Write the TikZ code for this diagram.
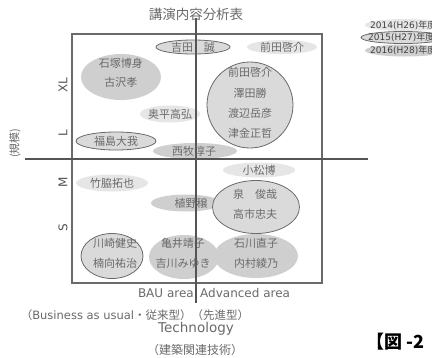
\documentclass[tikz,border=0pt]{standalone}
\usepackage{fontspec}
\setmainfont{DejaVu Sans}
\newfontfamily\jp{Noto Sans CJK JP}
\usetikzlibrary{shapes.geometric}
\definecolor{lightA}{HTML}{E6E6E6}
\definecolor{fillB}{HTML}{DADADA}
\definecolor{lineB}{HTML}{6A6A6A}
\definecolor{darkC}{HTML}{CFCFCF}
\definecolor{txtgray}{HTML}{6A6A6A}
\definecolor{axisgray}{HTML}{555555}
\tikzset{
  yA/.style={ellipse, fill=lightA, inner sep=0pt},
  yB/.style={ellipse, fill=fillB, draw=lineB, line width=0.8pt, inner sep=0pt},
  yC/.style={ellipse, fill=darkC, inner sep=0pt},
  nm/.style={font=\jp\fontsize{11}{20}\selectfont, text=txtgray, align=center, inner sep=0pt},
  lg/.style={font=\fontsize{9}{9}\selectfont, text=black!75, anchor=west, inner sep=0pt},
  sz/.style={font=\fontsize{12}{12}\selectfont, text=axisgray, rotate=90, inner sep=0pt},
  axisline/.style={draw=axisgray, line width=1.3pt},
  frameline/.style={draw=lineB, line width=1.4pt},
  bt/.style={text=txtgray, inner sep=0pt}
}
\begin{document}
\begin{tikzpicture}[x=1pt, y=-1pt]
\useasboundingbox (0,0) rectangle (432,357);
\clip (0,0) rectangle (432,357);
\fill[white] (0,0) rectangle (432,357);

% title
\node[bt, font=\jp\fontsize{13.5}{13.5}\selectfont] (title) at (196,14) {講演内容分析表};

% frame
\node[frameline, minimum width=250, minimum height=249, inner sep=0pt] (frame) at (197,158.5) {};

% ellipses
\node[yB, minimum width=74, minimum height=14] (eYoshida) at (193,47) {};
\node[yA, minimum width=70, minimum height=14] (eMaeda1) at (282,47) {};
\node[yB, minimum width=86, minimum height=86] (eBig) at (250,105) {};
\node[yC, minimum width=80, minimum height=46] (eIshi) at (121,77) {};
\node[yA, minimum width=60, minimum height=17] (eOku) at (170,114) {};
\node[yB, minimum width=80, minimum height=18] (eFuku) at (116,141) {};
\node[yC, minimum width=84, minimum height=16] (eNishi) at (195,151) {};
\node[yA, minimum width=72, minimum height=15] (eKoma) at (259,170) {};
\node[yA, minimum width=72, minimum height=17] (eTake) at (112,183) {};
\node[yC, minimum width=70, minimum height=17] (eUeno) at (186,203) {};
\node[yB, minimum width=87, minimum height=53] (eIzumi) at (256,207) {};
\node[yB, minimum width=62, minimum height=45] (eKawa) at (112,256) {};
\node[yC, minimum width=70, minimum height=44] (eKamei) at (184,257) {};
\node[yC, minimum width=84, minimum height=44] (eIshikawa) at (256,256) {};

% axes
\coordinate (vTop) at (196,18);
\coordinate (vBot) at (196,303);
\coordinate (hL) at (25,159);
\coordinate (hR) at (368,159);
\draw[axisline] (vTop) -- (vBot);
\draw[axisline] (hL) -- (hR);

% names
\node[nm] (tYoshida) at (193,47) {吉田　誠};
\node[nm] (tMaeda1) at (282,47) {前田啓介};
\node[nm, font=\jp\fontsize{11}{20.3}\selectfont] (tBig) at (250,103) {前田啓介\\澤田勝\\渡辺岳彦\\津金正哲};
\node[nm, font=\jp\fontsize{11}{19}\selectfont] (tIshi) at (121,73) {石塚博身\\古沢孝};
\node[nm] (tOku) at (170,114) {奥平高弘};
\node[nm] (tFuku) at (116,141) {福島大我};
\node[nm] (tNishi) at (194,151) {西牧淳子};
\node[nm] (tKoma) at (259,170) {小松博};
\node[nm] (tTake) at (112,183) {竹脇拓也};
\node[nm] (tUeno) at (191,203) {植野穣};
\node[nm] (tIzumi) at (255,204) {泉　俊哉\\高市忠夫};
\node[nm] (tKawa) at (115,253) {川崎健史\\楠向祐治};
\node[nm] (tKamei) at (183,253) {亀井靖子\\吉川みゆき};
\node[nm] (tIshikawa) at (256,253) {石川直子\\内村綾乃};

% size labels
\node[sz] (lXL) at (63,85) {XL};
\node[sz] (lL) at (63,133) {L};
\node[sz] (lM) at (63,182) {M};
\node[sz] (lS) at (63,228) {S};
\node[bt, font=\jp\fontsize{11}{11}\selectfont, rotate=90] (lScale) at (15,143) {(規模)};

% bottom labels
\node[bt, font=\fontsize{12}{12}\selectfont, anchor=east] (bau) at (194,293) {BAU area};
\node[bt, font=\fontsize{12}{12}\selectfont, anchor=west] (adv) at (200,293) {Advanced area};
\node[bt, font=\fontsize{11.5}{11.5}\selectfont] (bus) at (135,315) {{\jp （}Business as usual{\jp ・従来型）（先進型）}};
\node[bt, font=\fontsize{13.5}{13.5}\selectfont] (tech) at (196,329) {Technology};
\node[bt, font=\jp\fontsize{12}{12}\selectfont] (kenchiku) at (195,350) {（建築関連技術）};

% legend
\node[yA, minimum width=80, minimum height=12] (gA) at (405,25) {};
\node[yB, minimum width=84, minimum height=12] (gB) at (403,37.5) {};
\node[yC, minimum width=80, minimum height=12] (gC) at (405,50.5) {};
\node[lg] (gtA) at (370,25) {2014(H26){\jp 年度}};
\node[lg] (gtB) at (368,37.5) {2015(H27){\jp 年度}};
\node[lg] (gtC) at (370,50.5) {2016(H28){\jp 年度}};

% figure number
\node[font=\jp\bfseries\fontsize{18}{18}\selectfont, anchor=west, inner sep=0pt] (fig) at (366,342) {【図\hspace{4pt}-2};
\end{tikzpicture}
\end{document}
